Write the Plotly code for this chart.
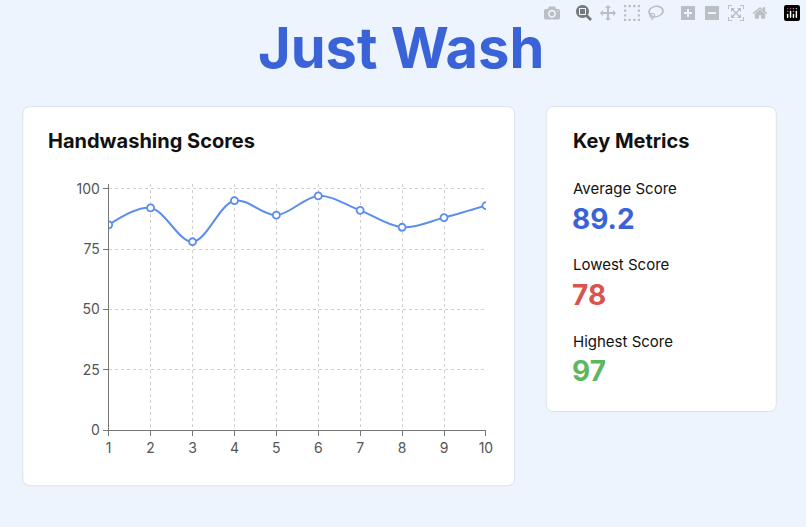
import plotly.graph_objects as go

# data
days = [1, 2, 3, 4, 5, 6, 7, 8, 9, 10]
scores = [85, 92, 78, 95, 89, 97, 91, 84, 88, 93]
metric_labels = ["Average Score", "Lowest Score", "Highest Score"]
metric_values = ["89.2", "78", "97"]
metric_colors = ["#3a63d8", "#d9534f", "#5cb85c"]

W, H = 806, 527


def px(x):
    return x / W


def py(y):
    return 1 - y / H


def rounded(x0, y0, x1, y1, r=8):
    # rounded rect path in paper coords
    X0, X1 = px(x0), px(x1)
    Y0, Y1 = py(y0), py(y1)
    rx, ry = r / W, r / H
    return (f"M {X0+rx},{Y0} L {X1-rx},{Y0} Q {X1},{Y0} {X1},{Y0-ry} "
            f"L {X1},{Y1+ry} Q {X1},{Y1} {X1-rx},{Y1} L {X0+rx},{Y1} "
            f"Q {X0},{Y1} {X0},{Y1+ry} L {X0},{Y0-ry} Q {X0},{Y0} {X0+rx},{Y0} Z")


fig = go.Figure()
fig.add_trace(go.Scatter(
    x=days, y=scores, mode="lines+markers",
    line=dict(color="#5b8def", width=2, shape="spline", smoothing=1),
    marker=dict(size=7, color="white", line=dict(color="#5b8def", width=1.8)),
    hoverinfo="x+y"))

card_style = dict(type="path", xref="paper", yref="paper", fillcolor="white",
                  line=dict(color="#dde2ea", width=1), layer="below")
shapes = [dict(path=rounded(20, 105, 518, 493), **card_style),
          dict(path=rounded(550, 105, 783, 417), **card_style)]

ann = [
    dict(x=0.5, y=py(45), text="<b>Just Wash</b>", font=dict(size=56, color="#3a63d8")),
    dict(x=px(44), y=py(140), text="<b>Handwashing Scores</b>", xanchor="left",
         font=dict(size=20, color="#111")),
    dict(x=px(575), y=py(140), text="<b>Key Metrics</b>", xanchor="left",
         font=dict(size=20, color="#111")),
]
for i, (lab, val, col) in enumerate(zip(metric_labels, metric_values, metric_colors)):
    y0 = 189 + i * 78
    ann.append(dict(x=px(575), y=py(y0), text=lab, xanchor="left",
                    font=dict(size=15, color="#111")))
    ann.append(dict(x=px(574), y=py(y0 + 31), text=f"<b>{val}</b>", xanchor="left",
                    font=dict(size=28, color=col)))
for a in ann:
    a.update(xref="paper", yref="paper", showarrow=False, yanchor="middle")

fig.update_layout(
    width=W, height=H, margin=dict(l=0, r=0, t=0, b=0),
    paper_bgcolor="#eef4fd", plot_bgcolor="white",
    font=dict(family="Inter, Roboto, sans-serif", color="#555"),
    showlegend=False, shapes=shapes, annotations=ann,
    xaxis=dict(domain=[px(107), px(489)], range=[1, 10], tickvals=days,
               showgrid=True, gridcolor="#d0d0d0", griddash="3px,3px",
               showline=True, linecolor="#777", ticks="outside", ticklen=5,
               tickcolor="#777", tickfont=dict(size=14), zeroline=False),
    yaxis=dict(domain=[py(436), py(184)], range=[0, 102], tickvals=[0, 25, 50, 75, 100],
               showgrid=True, gridcolor="#d0d0d0", griddash="3px,3px",
               showline=True, linecolor="#777", ticks="outside", ticklen=5,
               tickcolor="#777", tickfont=dict(size=14), zeroline=False),
)

fig.write_html("out.html",
               post_script="document.body.style.margin='0';"
                           "document.body.style.overflow='hidden';"
                           "document.body.style.background='#eef4fd';")
